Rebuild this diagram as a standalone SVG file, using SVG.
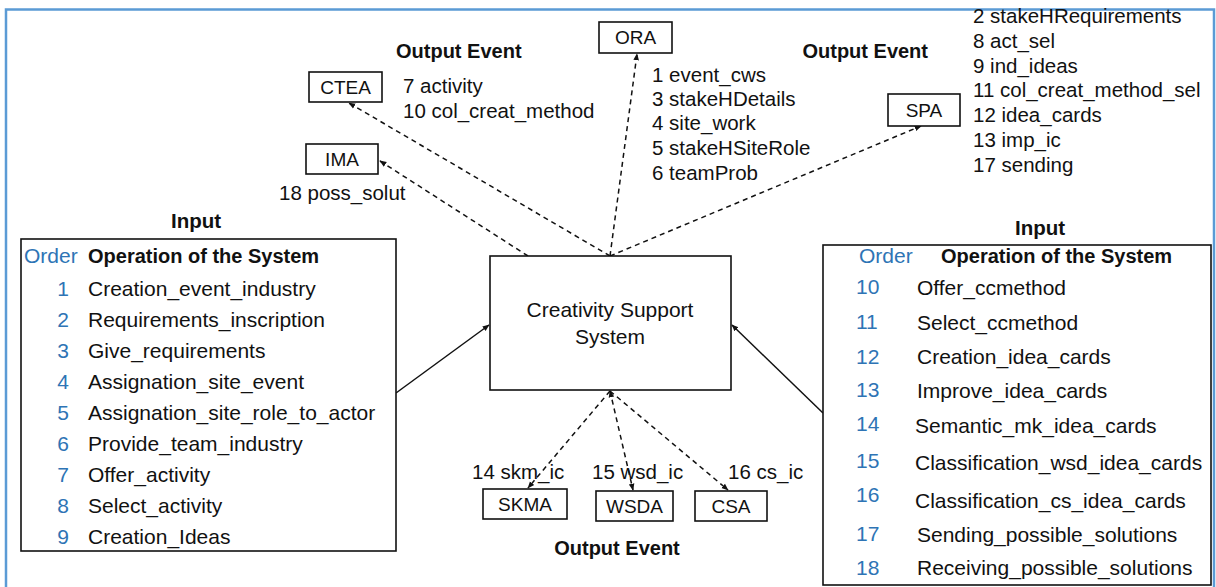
<svg xmlns="http://www.w3.org/2000/svg" width="1216" height="587" viewBox="0 0 1216 587">
<style>
text{font-family:"Liberation Sans",Arial,sans-serif;fill:#111}
.b{font-weight:bold}
.n{fill:#2e74b5}
.box{fill:#fff;stroke:#111;stroke-width:1.6}
.lbl{font-size:19px}
.row{font-size:21px}
.ev{font-size:20.5px}
.dash{fill:none;stroke:#111;stroke-width:1.5;stroke-dasharray:5 4}
.solid{fill:none;stroke:#111;stroke-width:1.5}
</style>
<defs>
<marker id="ah" viewBox="0 0 10 10" refX="9" refY="5" markerWidth="7" markerHeight="7" markerUnits="userSpaceOnUse" orient="auto-start-reverse">
<path d="M0,1 L10,5 L0,9 z" fill="#111"/>
</marker>
</defs>
<rect width="1216" height="587" fill="#fff"/>
<path d="M6,587 V9.5 H1214 V587" fill="none" stroke="#5b9bd5" stroke-width="2.5"/>

<g id="connectors">
<line class="dash" x1="610" y1="256" x2="349" y2="103" marker-end="url(#ah)"/>
<line class="dash" x1="528" y1="256" x2="380" y2="161" marker-end="url(#ah)"/>
<line class="dash" x1="610" y1="256" x2="637" y2="54" marker-end="url(#ah)"/>
<line class="dash" x1="610" y1="256" x2="921" y2="126" marker-end="url(#ah)"/>
<line class="dash" x1="610" y1="391" x2="528" y2="488" marker-end="url(#ah)"/>
<line class="dash" x1="610" y1="391" x2="633" y2="490" marker-start="url(#ah)" marker-end="url(#ah)"/>
<line class="dash" x1="610" y1="391" x2="728" y2="490" marker-end="url(#ah)"/>
<line class="solid" x1="396" y1="393" x2="489" y2="325" marker-end="url(#ah)"/>
<line class="solid" x1="823" y1="413" x2="732" y2="325" marker-end="url(#ah)"/>
</g>

<g id="css">
<rect class="box" x="490" y="256" width="241" height="134"/>
<text x="610" y="317" font-size="21" text-anchor="middle">Creativity Support</text>
<text x="610" y="344" font-size="21" text-anchor="middle">System</text>
</g>

<g id="ctea">
<rect class="box" x="309" y="72" width="73" height="30"/>
<text class="lbl" x="345.5" y="94" text-anchor="middle">CTEA</text>
</g>
<g id="ima">
<rect class="box" x="306" y="144" width="72" height="30"/>
<text class="lbl" x="342" y="166" text-anchor="middle">IMA</text>
</g>
<g id="ora">
<rect class="box" x="599" y="22" width="73" height="31"/>
<text class="lbl" x="635.5" y="44" text-anchor="middle">ORA</text>
</g>
<g id="spa">
<rect class="box" x="888" y="94" width="72" height="32"/>
<text class="lbl" x="924" y="117" text-anchor="middle">SPA</text>
</g>
<g id="skma">
<rect class="box" x="483" y="489" width="84" height="30"/>
<text class="lbl" x="525" y="511" text-anchor="middle">SKMA</text>
</g>
<g id="wsda">
<rect class="box" x="596" y="491" width="77" height="30"/>
<text class="lbl" x="634.5" y="513" text-anchor="middle">WSDA</text>
</g>
<g id="csa">
<rect class="box" x="695" y="491" width="72" height="30"/>
<text class="lbl" x="731" y="513" text-anchor="middle">CSA</text>
</g>

<g id="event-labels">
<text class="b" x="396" y="58" font-size="20">Output Event</text>
<text class="ev" x="403" y="93">7 activity</text>
<text class="ev" x="403" y="118">10 col_creat_method</text>
<text class="ev" x="279" y="200">18 poss_solut</text>
<text class="ev" x="652" y="82">1 event_cws</text>
<text class="ev" x="652" y="106">3 stakeHDetails</text>
<text class="ev" x="652" y="130">4 site_work</text>
<text class="ev" x="652" y="155">5 stakeHSiteRole</text>
<text class="ev" x="652" y="180">6 teamProb</text>
<text class="b" x="928" y="58" font-size="20" text-anchor="end">Output Event</text>
<text class="ev" x="973" y="23">2 stakeHRequirements</text>
<text class="ev" x="973" y="48">8 act_sel</text>
<text class="ev" x="973" y="72.5">9 ind_ideas</text>
<text class="ev" x="973" y="97">11 col_creat_method_sel</text>
<text class="ev" x="973" y="122">12 idea_cards</text>
<text class="ev" x="973" y="147">13 imp_ic</text>
<text class="ev" x="973" y="172">17 sending</text>
<text class="ev" x="472" y="479">14 skm_ic</text>
<text class="ev" x="592" y="479">15 wsd_ic</text>
<text class="ev" x="728" y="479">16 cs_ic</text>
<text class="b" x="617" y="555" font-size="20" text-anchor="middle">Output Event</text>
</g>

<g id="input-left">
<text class="b" x="196" y="228" font-size="20.5" text-anchor="middle">Input</text>
<rect class="box" x="21" y="239" width="375" height="312"/>
<text class="n row" x="24" y="263">Order</text>
<text class="b" x="88" y="263" font-size="20">Operation of the System</text>
<g class="row">
<text class="n" x="69" y="296" text-anchor="end">1</text><text x="88" y="296">Creation_event_industry</text>
<text class="n" x="69" y="327" text-anchor="end">2</text><text x="88" y="327">Requirements_inscription</text>
<text class="n" x="69" y="358" text-anchor="end">3</text><text x="88" y="358">Give_requirements</text>
<text class="n" x="69" y="389" text-anchor="end">4</text><text x="88" y="389">Assignation_site_event</text>
<text class="n" x="69" y="420" text-anchor="end">5</text><text x="88" y="420">Assignation_site_role_to_actor</text>
<text class="n" x="69" y="451" text-anchor="end">6</text><text x="88" y="451">Provide_team_industry</text>
<text class="n" x="69" y="482" text-anchor="end">7</text><text x="88" y="482">Offer_activity</text>
<text class="n" x="69" y="513" text-anchor="end">8</text><text x="88" y="513">Select_activity</text>
<text class="n" x="69" y="544" text-anchor="end">9</text><text x="88" y="544">Creation_Ideas</text>
</g>
</g>

<g id="input-right">
<text class="b" x="1040" y="235" font-size="20.5" text-anchor="middle">Input</text>
<rect class="box" x="823" y="245" width="388" height="340"/>
<text class="n row" x="859" y="263">Order</text>
<text class="b" x="941" y="263" font-size="20">Operation of the System</text>
<g class="row">
<text class="n" x="856" y="294">10</text><text x="917" y="295">Offer_ccmethod</text>
<text class="n" x="856" y="329">11</text><text x="917" y="330">Select_ccmethod</text>
<text class="n" x="856" y="364">12</text><text x="917" y="364">Creation_idea_cards</text>
<text class="n" x="856" y="397">13</text><text x="917" y="398">Improve_idea_cards</text>
<text class="n" x="856" y="431">14</text><text x="915" y="433">Semantic_mk_idea_cards</text>
<text class="n" x="856" y="468">15</text><text x="915" y="470">Classification_wsd_idea_cards</text>
<text class="n" x="856" y="502">16</text><text x="915" y="508">Classification_cs_idea_cards</text>
<text class="n" x="856" y="541">17</text><text x="917" y="542">Sending_possible_solutions</text>
<text class="n" x="856" y="575">18</text><text x="917" y="575">Receiving_possible_solutions</text>
</g>
</g>
</svg>
